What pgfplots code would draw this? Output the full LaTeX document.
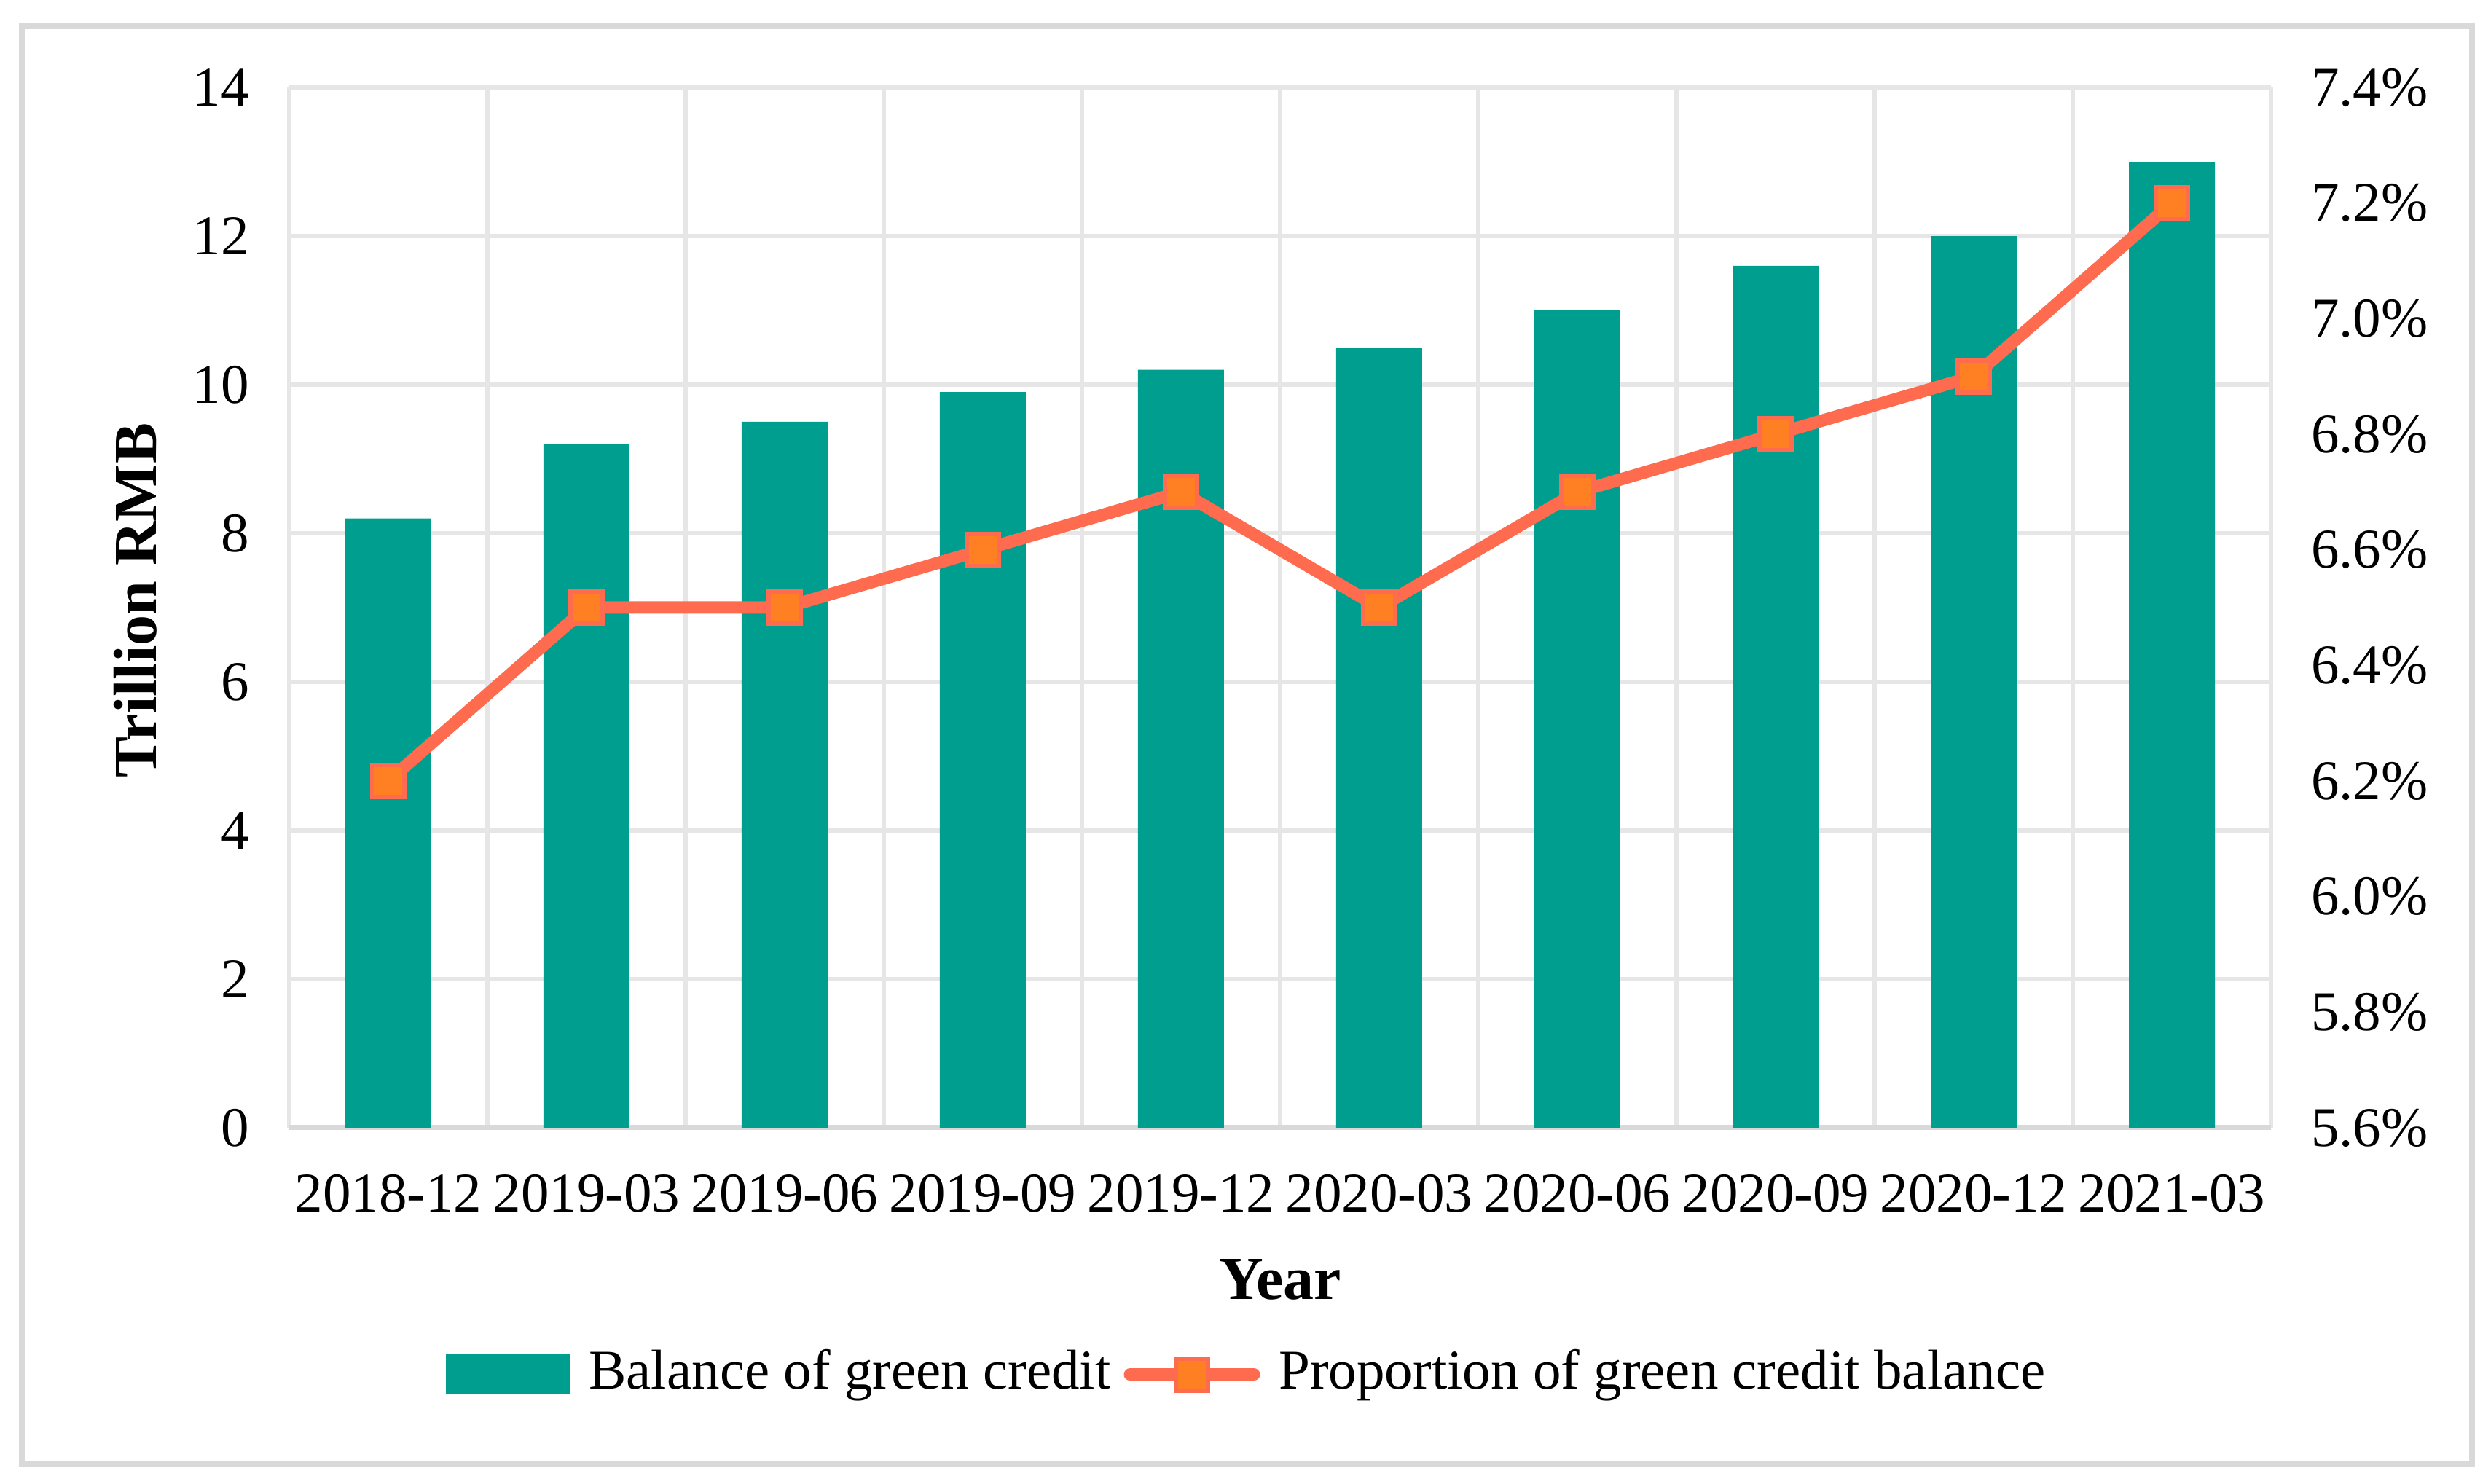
\documentclass[border=0pt]{standalone}
\usepackage{fontspec}
\setmainfont{Liberation Serif}
\usepackage{pgfplots}
\pgfplotsset{compat=1.18}
\usetikzlibrary{calc}
\definecolor{barc}{RGB}{0,158,142}
\definecolor{linec}{RGB}{255,107,79}
\definecolor{markc}{RGB}{255,128,34}
\definecolor{gridc}{RGB}{230,230,230}
\definecolor{framec}{RGB}{217,217,217}
\pgfplotsset{/pgf/number format/assume math mode=true}
\newcommand{\tickfont}{\fontsize{7.7}{9}\selectfont}
\newcommand{\labfont}{\fontsize{8.4}{10}\selectfont\bfseries}
\begin{document}
\begin{tikzpicture}
\pgfplotsset{
  base/.style={
    width=272pt, height=142.8pt, scale only axis,
    xmin=-0.5, xmax=9.5,
    major tick length=0pt, minor tick length=0pt,
    tick label style={font=\tickfont, inner sep=0pt},
  }
}
\begin{axis}[base, name=main,
  axis x line*=bottom, axis y line*=left,
  x axis line style={draw=framec, line width=0.7pt},
  y axis line style={draw=none},
  ymin=0, ymax=14, ytick={0,2,4,6,8,10,12,14},
  xtick={0,1,2,3,4,5,6,7,8,9},
  xticklabels={2018-12,2019-03,2019-06,2019-09,2019-12,2020-03,2020-06,2020-09,2020-12,2021-03},
  minor xtick={-0.5,0.5,1.5,2.5,3.5,4.5,5.5,6.5,7.5,8.5,9.5},
  xmajorgrids=false, xminorgrids=true, ymajorgrids=true,
  grid style={draw=gridc, line width=0.6pt},
  minor grid style={draw=gridc, line width=0.6pt},
  yticklabel style={anchor=east, xshift=-5.3pt},
  xticklabel style={anchor=north, yshift=-6.2pt},
  xlabel={Year}, ylabel={Trillion RMB},
  every axis x label/.style={at={(axis description cs:0.5,-0.1457)}, anchor=center, font=\labfont},
  every axis y label/.style={at={(axis description cs:-0.0776,0.507)}, anchor=center, rotate=90, font=\labfont},
]
\addplot[ybar, bar width=11.8pt, bar shift=0pt, fill=barc, draw=none] coordinates {
(0,8.2) (1,9.2) (2,9.5) (3,9.9) (4,10.2) (5,10.5) (6,11.0) (7,11.6) (8,12.0) (9,13.0)};
\end{axis}
\begin{axis}[base,
  axis x line=none, axis y line*=right,
  y axis line style={draw=none},
  ymin=5.6, ymax=7.4, ytick={5.6,5.8,6.0,6.2,6.4,6.6,6.8,7.0,7.2,7.4},
  yticklabel={\pgfmathprintnumber[fixed,fixed zerofill,precision=1]{\tick}\%},
  yticklabel style={anchor=west, xshift=5.3pt},
  legend columns=2,
  legend style={at={(0.4827,-0.2374)}, anchor=center, draw=none, fill=none,
    font=\tickfont, inner sep=0pt, nodes={inner sep=0pt},
    /tikz/every odd column/.append style={column sep=2.6pt},
    /tikz/every even column/.append style={column sep=1.8pt}},
]
\addlegendimage{legend image code/.code={\fill[barc] (0pt,-2.55pt) rectangle (16.6pt,2.55pt);}}
\addlegendentry{Balance of green credit}
\addplot[linec, line width=1.7pt, mark=square*, mark size=2.2pt,
  mark options={fill=markc, draw=linec, line width=0.6pt, solid},
  legend image code/.code={\draw[linec, line width=1.7pt, line cap=round] (0.6pt,0pt) -- (17.6pt,0pt);
    \draw[fill=markc, draw=linec, line width=0.6pt] (6.9pt,-2.2pt) rectangle (11.3pt,2.2pt);}]
 coordinates {
(0,6.2) (1,6.5) (2,6.5) (3,6.6) (4,6.7) (5,6.5) (6,6.7) (7,6.8) (8,6.9) (9,7.2)};
\addlegendentry{Proportion of green credit balance}
\end{axis}
\draw[framec, line width=0.75pt] ($(main.south west)+(-36.7pt,-46.2pt)$) rectangle ($(main.north east)+(27.6pt,8.4pt)$);
\pgfresetboundingbox
\path[use as bounding box] ($(main.south west)+(-39.7pt,-48.9pt)$) rectangle ($(main.north east)+(30.2pt,12.0pt)$);
\end{tikzpicture}
\end{document}
